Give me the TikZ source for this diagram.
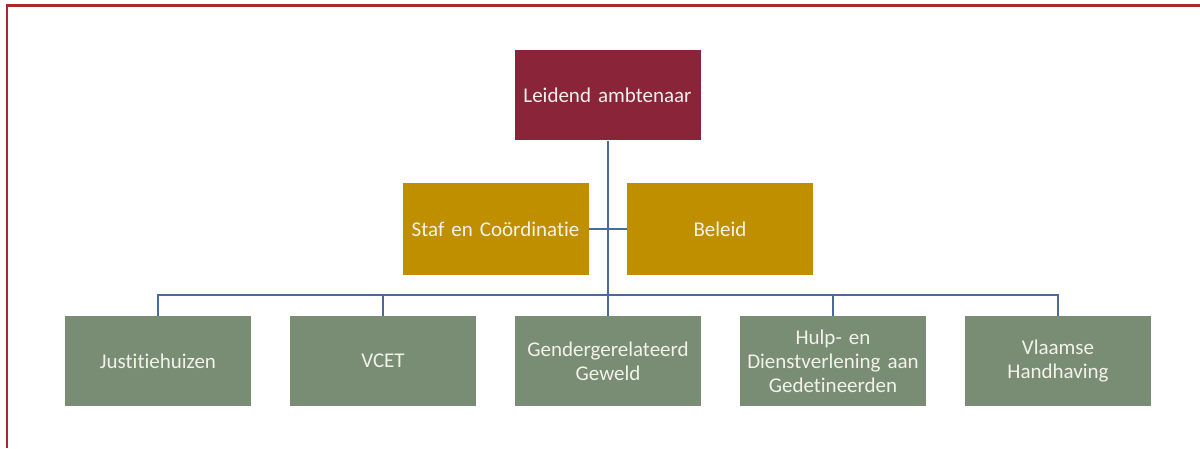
\documentclass[tikz,border=0pt]{standalone}
\usepackage{fontspec}
\setmainfont[Ligatures=NoCommon,WordSpace=0.8]{Carlito}
\definecolor{topc}{HTML}{8A2439}
\definecolor{midc}{HTML}{BF8F00}
\definecolor{botc}{HTML}{798C74}
\definecolor{linec}{HTML}{4A6A9E}
\definecolor{framec}{HTML}{A8282E}
\definecolor{txtc}{HTML}{F2F2EA}
\tikzset{
  box/.style={draw=none, minimum width=185pt, minimum height=90pt, inner sep=2pt,
    text=txtc, align=center, font=\fontsize{21}{24}\selectfont, text width=182pt},
  topbox/.style={box, fill=topc},
  midbox/.style={box, fill=midc, minimum width=184pt, minimum height=92pt},
  botbox/.style={box, fill=botc, minimum width=186pt},
  conn/.style={draw=linec, line width=2pt},
}
\begin{document}
\begin{tikzpicture}[x=1pt,y=1pt]
\useasboundingbox (0,0) rectangle (1200,448);
\fill[white] (0,0) rectangle (1200,448);
\draw[framec, line width=2.2pt] (7,0) -- (7,442.5) -- (1200,442.5);
% top
\node[topbox] (top) at (607.5,352.5) {Leidend ambtenaar};
% middle
\node[midbox] (staf) at (495.5,219) {Staf en Coördinatie};
\node[midbox] (bel) at (720,219) {Beleid};
% bottom
\node[botbox] (b1) at (158,87) {Justitiehuizen};
\node[botbox] (b2) at (383,87) {VCET};
\node[botbox] (b3) at (608,87) {Gendergerelateerd\\Geweld};
\node[botbox] (b4) at (833,87) {Hulp- en\\Dienstverlening aan\\Gedetineerden};
\node[botbox] (b5) at (1058,87) {Vlaamse\\Handhaving};
% connectors
\coordinate (bus) at (607.5,153);
\draw[conn] (top.south) -- (bus);
\draw[conn] (staf.east) -- (bel.west);
\draw[conn] (b1.north) |- (bus);
\draw[conn] (b5.north) |- (bus);
\draw[conn] (b2.north) -- (b2.north |- bus);
\draw[conn] (b3.north) -- (b3.north |- bus);
\draw[conn] (b4.north) -- (b4.north |- bus);
\end{tikzpicture}
\end{document}
